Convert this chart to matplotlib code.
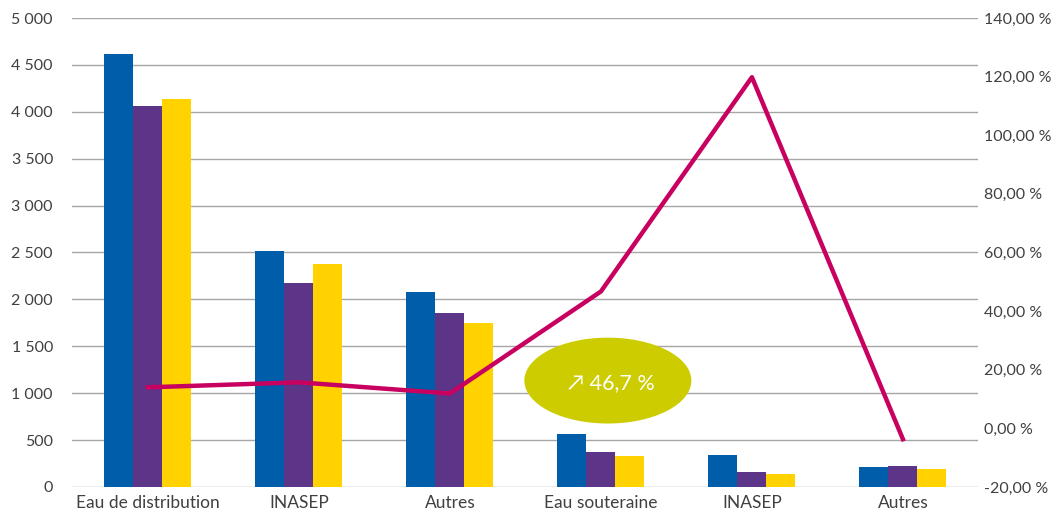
import matplotlib
matplotlib.use("Agg")
import matplotlib.pyplot as plt
import numpy as np
from matplotlib.patches import Ellipse
from matplotlib.ticker import FuncFormatter

plt.rcParams['font.family'] = ['Lato', 'DejaVu Sans']

categories = ["Eau de distribution", "INASEP", "Autres",
              "Eau souteraine", "INASEP", "Autres"]
series_blue = [4620, 2520, 2080, 565, 340, 213]
series_purple = [4060, 2180, 1855, 375, 160, 224]
series_yellow = [4140, 2380, 1750, 330, 140, 192]
variation_pct = [14.0, 15.7, 11.9, 46.7, 119.8, -3.7]
badge_text = "↗ 46,7 %"

left_ticks = [0, 500, 1000, 1500, 2000, 2500, 3000, 3500, 4000, 4500, 5000]
right_ticks = [-20, 0, 20, 40, 60, 80, 100, 120, 140]

c_blue = "#005DAA"
c_purple = "#5C3589"
c_yellow = "#FFD200"
c_line = "#C8005F"
c_badge = "#CCCC00"
c_grid = "#A6A6A6"
c_text = "#404040"

fig = plt.figure(figsize=(10.64, 5.19), dpi=100)
ax = fig.add_axes([0.068, 0.0617, 0.8516, 0.9036])

x = np.arange(len(categories))
w = 0.192
ax.bar(x - w, series_blue, w, color=c_blue, zorder=2)
ax.bar(x, series_purple, w, color=c_purple, zorder=2)
ax.bar(x + w, series_yellow, w, color=c_yellow, zorder=2)

ax.set_xlim(-0.5, len(categories) - 0.5)
ax.set_ylim(0, 5000)
ax.set_yticks(left_ticks)
ax.yaxis.set_major_formatter(FuncFormatter(lambda v, p: f"{int(v):,}".replace(",", " ")))
ax.grid(axis='y', color=c_grid, linewidth=1.0, zorder=0)
ax.set_axisbelow(True)
ax.set_xticks(x)
ax.set_xticklabels(categories)
for s in ax.spines.values():
    s.set_visible(False)
ax.tick_params(axis='y', length=0, pad=14, labelsize=11.5, labelcolor=c_text)
ax.tick_params(axis='x', length=0, pad=6, labelsize=12.5, labelcolor=c_text)

ax2 = ax.twinx()
ax2.plot(x, variation_pct, color=c_line, linewidth=3.2, zorder=3)
ax2.set_ylim(-20, 140)
ax2.set_yticks(right_ticks)
ax2.yaxis.set_major_formatter(FuncFormatter(lambda v, p: f"{v:.2f}".replace(".", ",") + " %"))
for s in ax2.spines.values():
    s.set_visible(False)
ax2.tick_params(axis='y', length=0, pad=4, labelsize=11.5, labelcolor=c_text)

badge = Ellipse((3.046, 16.3), 1.106, 29.3, facecolor=c_badge, edgecolor='none', zorder=5)
ax2.add_patch(badge)
ax2.text(3.066, 15.6, badge_text, color='white', fontsize=15.5, ha='center', va='center', zorder=6)

fig.savefig("out.png", dpi=100)
